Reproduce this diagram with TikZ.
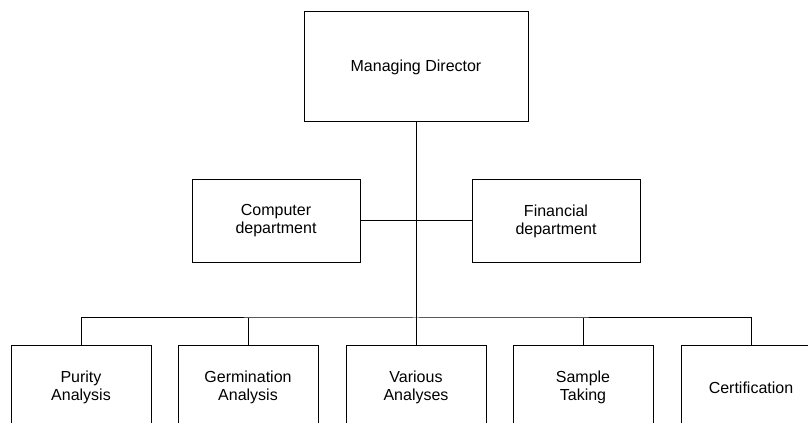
\documentclass[tikz,border=0pt]{standalone}
\usepackage{fontspec}
\setmainfont{Liberation Sans}
\usetikzlibrary{positioning}
\tikzset{
  % Organisation chart
  orgbox/.style  = { draw, line width=0.75pt, align=center, inner sep=0,
                     font=\fontsize{12}{13.5}\selectfont },
  topbox/.style  = { orgbox, minimum width=168pt, minimum height=82.5pt },
  deptbox/.style = { orgbox, minimum width=126pt, minimum height=62.25pt },
  unitbox/.style = { orgbox, minimum width=105pt, minimum height=62.25pt },
  orgline/.style = { line width=0.75pt }
}
\begin{document}
\begin{tikzpicture}[x=0.75pt,y=-0.75pt]
  \clip (0,0) rectangle (808,423);
  \fill[white] (0,0) rectangle (808,423);

  \node[topbox]  (md)      at (416,67)    {Managing Director};
  \node[deptbox] (compdep) at (276,221)   {Computer\\department};
  \node[deptbox] (findep)  at (556,221)   {Financial\\department};

  \node[unitbox] (purity)  at (81,387.5)  {Purity\\Analysis};
  \node[unitbox] (germ)    at (248,387.5) {Germination\\Analysis};
  \node[unitbox] (various) at (416,387.5) {Various\\Analyses};
  \node[unitbox] (sample)  at (583,387.5) {Sample\\Taking};
  \node[unitbox] (cert)    at (751,387.5) {Certification};

  \coordinate (bus) at (416,318);

  % --- staff departments off the main line ---------------------------
  \draw[orgline] (md.south) -- (bus);
  \draw[orgline] (compdep.east) -- (findep.west);

  % --- laboratory units ----------------------------------------------
  \draw[orgline] (purity.north) |- (bus) -| (cert.north);
  \foreach \n in {germ,various,sample}
    \draw[orgline] (\n.north) -- (\n.north |- bus);

\end{tikzpicture}
\end{document}
